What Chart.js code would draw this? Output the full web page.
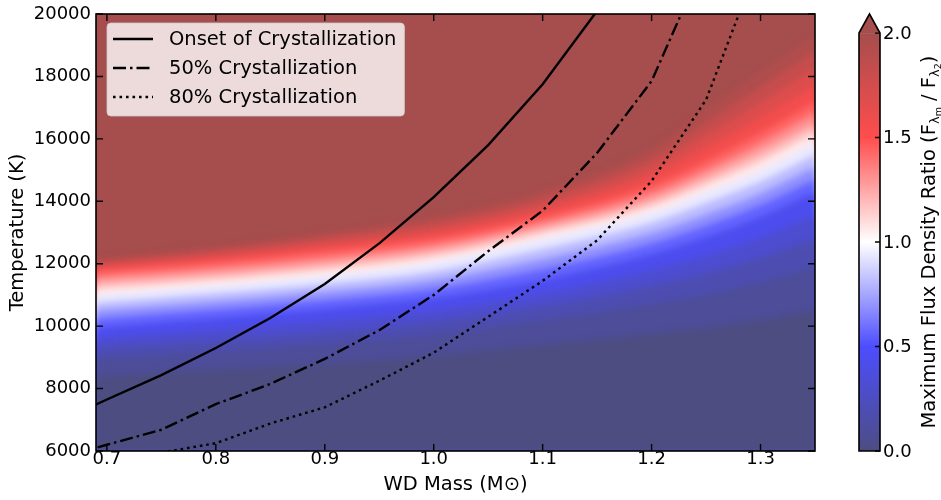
<!DOCTYPE html>
<html>
<head>
<meta charset="utf-8">
<script src="https://cdn.jsdelivr.net/npm/chart.js@4.4.1/dist/chart.umd.min.js"></script>
<style>
  html, body { margin: 0; padding: 0; background: #fff; }
  #wrap { width: 941px; height: 500px; }
</style>
</head>
<body>
<div id="wrap"><canvas id="chart" width="941" height="500"></canvas></div>
<script>
// ===== data =====

// masses (Msun) where the ratio contours were read
const massGrid = [0.69, 0.8, 0.9, 1.0, 1.1, 1.2, 1.25, 1.3, 1.35];

// flux density ratio levels, and temperature (K) of each level along massGrid
const ratioLevels = [0.0625, 0.125, 0.25, 0.375, 0.5, 0.625, 0.75, 0.875, 1.0,
                     1.125, 1.25, 1.375, 1.5, 1.625, 1.75, 1.875, 2.0];
const t0062 = [8400, 8600, 8800, 9050, 9400, 9750, 9950, 10200, 10500];
const t0125 = [8950, 9180, 9420, 9730, 10180, 10700, 11000, 11400, 11900];
const t0250 = [9300, 9550, 9800, 10150, 10650, 11300, 11700, 12200, 12800];
const t0375 = [9620, 9900, 10180, 10520, 11060, 11800, 12270, 12850, 13550];
const t0500 = [9950, 10250, 10550, 10900, 11480, 12300, 12850, 13500, 14300];
const t0625 = [10230, 10530, 10830, 11190, 11820, 12650, 13220, 13880, 14700];
const t0750 = [10500, 10800, 11100, 11480, 12150, 12980, 13580, 14250, 15100];
const t0875 = [10750, 11050, 11360, 11760, 12480, 13320, 13950, 14630, 15500];
const t1000 = [11000, 11300, 11620, 12050, 12800, 13650, 14300, 15000, 15900];
const t1125 = [11200, 11490, 11810, 12230, 12970, 13850, 14540, 15290, 16200];
const t1250 = [11400, 11680, 12000, 12420, 13150, 14050, 14780, 15580, 16500];
const t1375 = [11580, 11870, 12200, 12610, 13320, 14270, 15030, 15880, 16850];
const t1500 = [11750, 12050, 12400, 12800, 13500, 14500, 15300, 16200, 17200];
const t1625 = [11850, 12170, 12550, 12970, 13700, 14800, 15700, 16650, 17700];
const t1750 = [11950, 12300, 12700, 13150, 13900, 15100, 16100, 17150, 18250];
const t1875 = [12050, 12430, 12850, 13330, 14120, 15400, 16500, 17650, 18800];
const t2000 = [12150, 12550, 13000, 13500, 14350, 15700, 16950, 18150, 19300];
const contourTemps = [t0062, t0125, t0250, t0375, t0500, t0625, t0750, t0875, t1000,
                      t1125, t1250, t1375, t1500, t1625, t1750, t1875, t2000];

// crystallization curves
const onsetMass = [0.65, 0.7, 0.75, 0.8, 0.85, 0.9, 0.95, 1.0, 1.05, 1.1, 1.15];
const onsetTemp = [6850, 7650, 8430, 9300, 10260, 11350, 12650, 14130, 15800, 17750, 20100];
const halfMass = [0.65, 0.7, 0.75, 0.8, 0.85, 0.9, 0.95, 1.0, 1.05, 1.1, 1.15, 1.2, 1.25];
const halfTemp = [5700, 6200, 6680, 7500, 8150, 8950, 9870, 11000, 12400, 13700, 15550, 17850, 21800];
const eightyMass = [0.75, 0.8, 0.85, 0.9, 0.95, 1.0, 1.05, 1.1, 1.15, 1.2, 1.25, 1.3];
const eightyTemp = [5950, 6250, 6880, 7400, 8250, 9150, 10300, 11450, 12750, 14650, 17250, 21800];

// tick labels
const massTicks = [0.7, 0.8, 0.9, 1.0, 1.1, 1.2, 1.3];
const tempTicks = [6000, 8000, 10000, 12000, 14000, 16000, 18000, 20000];
const ratioTicks = [0.0, 0.5, 1.0, 1.5, 2.0];

// ===== colour map (seismic, alpha 0.7 on white) =====
const cmapNodes = [
    [0.0, [0, 0, 76.5]],
    [0.5, [0, 0, 255]],
    [1.0, [255, 255, 255]],
    [1.5, [255, 0, 0]],
    [2.0, [127.5, 0, 0]]
];
function fieldColor(v) {
    v = Math.max(0, Math.min(2, v));
    let k = 0;
    while (k < cmapNodes.length - 2 && v > cmapNodes[k + 1][0]) k++;
    const [v0, c0] = cmapNodes[k];
    const [v1, c1] = cmapNodes[k + 1];
    const f = (v - v0) / (v1 - v0);
    const rgb = c0.map((c, i) => 0.7 * (c + (c1[i] - c) * f) + 0.3 * 255);
    return `rgb(${rgb.map(Math.round).join(',')})`;
}

// ===== datasets =====
const FONT = 'DejaVu Sans';
Chart.defaults.font.family = FONT;
Chart.defaults.color = '#000';

function xy(xs, ys) {
    return xs.map((x, i) => ({ x: x, y: ys[i] }));
}

const lineSets = [
    { label: 'Onset of Crystallization', data: xy(onsetMass, onsetTemp), borderDash: [] },
    { label: '50% Crystallization', data: xy(halfMass, halfTemp), borderDash: [13, 4, 2.5, 4] },
    { label: '80% Crystallization', data: xy(eightyMass, eightyTemp), borderDash: [2.6, 3.9] }
].map(d => Object.assign(d, {
    borderColor: '#000',
    borderWidth: 2.4,
    pointRadius: 0,
    fill: false,
    tension: 0,
    order: 0
}));

// every level is filled down to the axis; lower levels are drawn on top
const bandSets = contourTemps.map((temps, i) => ({
    label: 'ratio ' + ratioLevels[i],
    data: xy(massGrid, temps),
    borderWidth: 0,
    borderColor: 'rgba(0,0,0,0)',
    pointRadius: 0,
    cubicInterpolationMode: 'monotone',
    fill: 'start',
    backgroundColor: fieldColor(i === 0 ? 0 : (ratioLevels[i - 1] + ratioLevels[i]) / 2),
    order: 1
}));

// ===== field background, frame, inward ticks, legend and colour bar =====
const decorations = {
    id: 'decorations',
    beforeDatasetsDraw(chart) {
        const { ctx, chartArea: a } = chart;
        // saturated region (ratio > 2) behind all levels
        ctx.fillStyle = fieldColor(2.0);
        ctx.fillRect(a.left, a.top, a.right - a.left, a.bottom - a.top);
        // soften the steps between the read contour levels
        ctx.filter = 'blur(3px)';
    },
    beforeDatasetDraw(chart, args) {
        if (args.meta.order === 0) chart.ctx.filter = 'none';
    },
    afterDatasetsDraw(chart) {
        const { ctx, chartArea: a, scales } = chart;
        ctx.filter = 'none';
        ctx.save();

        // frame
        ctx.strokeStyle = '#000';
        ctx.lineWidth = 1.6;
        ctx.strokeRect(a.left, a.top, a.right - a.left, a.bottom - a.top);

        // inward ticks on all four sides
        ctx.lineWidth = 1.4;
        ctx.beginPath();
        massTicks.forEach(v => {
            const px = scales.x.getPixelForValue(v);
            ctx.moveTo(px, a.bottom); ctx.lineTo(px, a.bottom - 7);
            ctx.moveTo(px, a.top); ctx.lineTo(px, a.top + 7);
        });
        tempTicks.forEach(v => {
            const py = scales.y.getPixelForValue(v);
            ctx.moveTo(a.left, py); ctx.lineTo(a.left + 7, py);
            ctx.moveTo(a.right, py); ctx.lineTo(a.right - 7, py);
        });
        ctx.stroke();

        // legend
        ctx.font = '19.5px "' + FONT + '"';
        const textW = Math.max(...lineSets.map(d => ctx.measureText(d.label).width));
        const bx = a.left + 11, by = a.top + 9;
        const bw = 62 + textW + 8, bh = 93;
        ctx.beginPath();
        ctx.roundRect(bx, by, bw, bh, 4);
        ctx.fillStyle = 'rgba(255,255,255,0.8)';
        ctx.fill();
        ctx.strokeStyle = 'rgba(204,204,204,0.8)';
        ctx.lineWidth = 1;
        ctx.stroke();
        lineSets.forEach((d, i) => {
            const ry = by + 16 + i * 29;
            ctx.beginPath();
            ctx.setLineDash(d.borderDash);
            ctx.strokeStyle = '#000';
            ctx.lineWidth = d.borderWidth;
            ctx.moveTo(bx + 6, ry);
            ctx.lineTo(bx + 46, ry);
            ctx.stroke();
            ctx.setLineDash([]);
            ctx.fillStyle = '#000';
            ctx.textBaseline = 'middle';
            ctx.textAlign = 'left';
            ctx.fillText(d.label, bx + 62, ry + 1);
        });

        // colour bar
        const cb = scales.cb;
        const cx0 = a.right + 44, cx1 = a.right + 65;
        const y0 = cb.getPixelForValue(0), y2 = cb.getPixelForValue(2.0);
        const yApex = cb.getPixelForValue(cb.max);
        const grad = ctx.createLinearGradient(0, y0, 0, y2);
        cmapNodes.forEach(([v]) => grad.addColorStop(v / 2, fieldColor(v)));
        ctx.fillStyle = grad;
        ctx.fillRect(cx0, y2, cx1 - cx0, y0 - y2);
        ctx.beginPath();
        ctx.moveTo(cx0, y2);
        ctx.lineTo((cx0 + cx1) / 2, yApex);
        ctx.lineTo(cx1, y2);
        ctx.closePath();
        ctx.fillStyle = fieldColor(2.0);
        ctx.fill();
        ctx.beginPath();
        ctx.moveTo(cx0, y0);
        ctx.lineTo(cx0, y2);
        ctx.lineTo((cx0 + cx1) / 2, yApex);
        ctx.lineTo(cx1, y2);
        ctx.lineTo(cx1, y0);
        ctx.closePath();
        ctx.strokeStyle = '#000';
        ctx.lineWidth = 1.6;
        ctx.stroke();
        ctx.lineWidth = 1.4;
        ctx.beginPath();
        ratioTicks.forEach(v => {
            const py = cb.getPixelForValue(v);
            ctx.moveTo(cx1, py); ctx.lineTo(cx1 - 5, py);
        });
        ctx.stroke();
        ctx.font = '18px "' + FONT + '"';
        ctx.fillStyle = '#000';
        ctx.textAlign = 'left';
        ctx.textBaseline = 'middle';
        ratioTicks.forEach(v => {
            ctx.fillText(v.toFixed(1), cx1 + 3, cb.getPixelForValue(v) + 1);
        });

        // colour bar title with subscripts
        const parts = [
            ['Maximum Flux Density Ratio (F', 19.5, 0],
            ['\u03bb', 13, 3.5],
            ['m', 9.5, 5.5],
            [' / F', 19.5, 0],
            ['\u03bb', 13, 3.5],
            ['2', 9.5, 5.5],
            [')', 19.5, 0]
        ];
        let total = 0;
        parts.forEach(p => { ctx.font = p[1] + 'px "' + FONT + '"'; total += ctx.measureText(p[0]).width; });
        ctx.translate(a.right + 113, (y0 + y2) / 2);
        ctx.rotate(-Math.PI / 2);
        ctx.textBaseline = 'alphabetic';
        ctx.textAlign = 'left';
        let tx = -total / 2;
        parts.forEach(p => {
            ctx.font = p[1] + 'px "' + FONT + '"';
            ctx.fillText(p[0], tx, 7 + p[2]);
            tx += ctx.measureText(p[0]).width;
        });

        ctx.restore();
    }
};

new Chart(document.getElementById('chart'), {
    type: 'line',
    data: { datasets: lineSets.concat(bandSets) },
    options: {
        responsive: false,
        animation: false,
        layout: { padding: { top: 14, left: 0, right: 0, bottom: 0 } },
        plugins: {
            legend: { display: false },
            tooltip: { enabled: false }
        },
        scales: {
            x: {
                type: 'linear',
                min: 0.69,
                max: 1.35,
                afterFit: s => { s.height = 49; },
                afterBuildTicks: s => { s.ticks = massTicks.map(v => ({ value: v })); },
                ticks: {
                    font: { size: 18, lineHeight: 1 },
                    color: '#000',
                    padding: -1,
                    maxRotation: 0,
                    callback: v => v.toFixed(1)
                },
                grid: { display: false, drawTicks: false },
                border: { display: false },
                title: {
                    display: true,
                    text: 'WD Mass (M\u2299)',
                    font: { size: 19.5 },
                    color: '#000',
                    padding: { top: 0, bottom: 3 }
                }
            },
            y: {
                type: 'linear',
                position: 'left',
                min: 6000,
                max: 20000,
                afterFit: s => { s.width = 96; },
                afterBuildTicks: s => { s.ticks = tempTicks.map(v => ({ value: v })); },
                ticks: {
                    font: { size: 18, lineHeight: 1 },
                    color: '#000',
                    padding: 5,
                    callback: v => String(v)
                },
                grid: { display: false, drawTicks: false },
                border: { display: false },
                title: {
                    display: true,
                    text: 'Temperature (K)',
                    font: { size: 19.5 },
                    color: '#000',
                    padding: { top: 6, bottom: 0 }
                }
            },
            cb: {
                type: 'linear',
                position: 'right',
                min: 0,
                max: 2.0913,
                afterFit: s => { s.width = 126; },
                ticks: { display: false },
                grid: { display: false, drawTicks: false },
                border: { display: false }
            }
        }
    },
    plugins: [decorations]
});
</script>
</body>
</html>
